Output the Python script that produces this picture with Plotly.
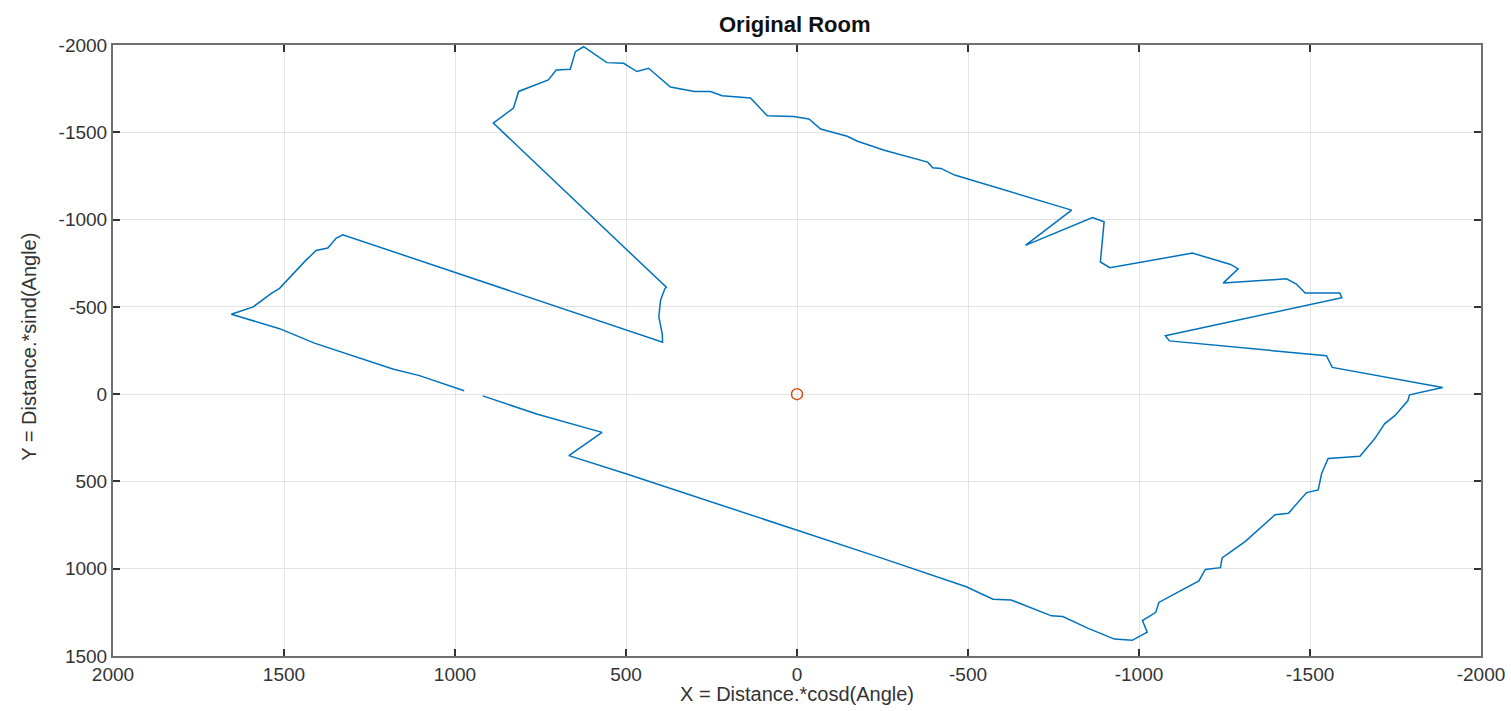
import plotly.graph_objects as go

# Room outline (X = Distance.*cosd(Angle), Y = Distance.*sind(Angle))
room_x = [919, 759, 570, 667, 500, 250, 0, -250, -495, -573, -626, -744, -777, -850, -928, -980,
          -1024, -1010, -1049, -1058, -1175, -1194, -1238, -1243, -1311, -1398, -1437, -1490, -1524,
          -1534, -1553, -1646, -1689, -1718, -1748, -1786, -1791, -1888,
          -1565, -1548, -1089, -1077, -1593, -1587, -1486, -1459, -1431, -1246, -1290, -1268, -1156,
          -915, -887, -898, -864, -668, -803, -461, -421, -397, -382, -255, -177, -147, -69, -35, 10,
          87, 136, 219, 253, 300, 370, 434, 468, 507, 556, 624, 648, 663, 704, 727, 814, 829, 888,
          382, 386, 399, 404, 394, 393,
          1328, 1347, 1372, 1406, 1435, 1513, 1537, 1590, 1654, 1513, 1411, 1182, 1104, 973]
room_y = [10, 115, 219, 352, 456, 617, 779, 941, 1103, 1175, 1179, 1270, 1274, 1340, 1403, 1410,
          1364, 1297, 1250, 1193, 1070, 1004, 994, 938, 843, 691, 682, 564, 549,
          455, 369, 356, 256, 170, 123, 38, 4, -38,
          -153, -220, -305, -335, -552, -579, -579, -632, -661, -636, -718, -743, -808,
          -724, -757, -987, -1011, -852, -1054, -1255, -1293, -1297, -1329, -1397, -1449, -1477, -1519, -1576, -1591,
          -1595, -1696, -1709, -1734, -1734, -1759, -1867, -1848, -1895, -1899, -1990, -1962, -1861, -1857, -1800, -1734, -1639, -1553,
          -612, -606, -538, -442, -346, -298,
          -913, -894, -837, -823, -769, -606, -577, -500, -458, -375, -292, -144, -106, -19]

origin_x = [0]
origin_y = [0]

x_ticks = [2000, 1500, 1000, 500, 0, -500, -1000, -1500, -2000]
y_ticks = [-2000, -1500, -1000, -500, 0, 500, 1000, 1500]

FONT = "Liberation Sans, Arial, Helvetica, sans-serif"

fig = go.Figure()
fig.add_trace(go.Scatter(x=room_x, y=room_y, mode="lines",
                         line=dict(color="#0072BD", width=1.5), showlegend=False))
fig.add_trace(go.Scatter(x=origin_x, y=origin_y, mode="markers",
                         marker=dict(symbol="circle-open", size=11, color="#D95319",
                                     line=dict(width=1.5)), showlegend=False))

axis_common = dict(showgrid=True, gridcolor="#e3e3e3", gridwidth=1, zeroline=False,
                   showline=True, linecolor="#707070", linewidth=2, mirror="ticks",
                   ticks="inside", ticklen=7, tickwidth=1.5, tickcolor="#333",
                   automargin=False,
                   tickfont=dict(family=FONT, size=19, color="#333"))

fig.update_xaxes(range=[2000, -2000], tickvals=x_ticks, ticktext=[str(v) for v in x_ticks],
                 **axis_common)
fig.update_yaxes(range=[1500, -2000], tickvals=y_ticks, ticktext=[str(v) for v in y_ticks],
                 **axis_common)

fig.update_layout(
    width=1511, height=711,
    margin=dict(l=113, r=30, t=45, b=55),
    paper_bgcolor="white", plot_bgcolor="white",
    title=dict(text="<b>Original Room</b>", x=0.526, xanchor="center", y=0.966, yanchor="middle",
               font=dict(family=FONT, size=22, color="#111")),
    annotations=[
        dict(text="X = Distance.*cosd(Angle)", xref="paper", yref="paper", x=0.5, y=-0.063,
             xanchor="center", yanchor="middle", showarrow=False,
             font=dict(family=FONT, size=20, color="#333")),
        dict(text="Y = Distance.*sind(Angle)", xref="paper", yref="paper", x=-0.0615, y=0.506,
             xanchor="center", yanchor="middle", textangle=-90, showarrow=False,
             font=dict(family=FONT, size=20, color="#333")),
    ],
)

fig.write_html("out.html")
